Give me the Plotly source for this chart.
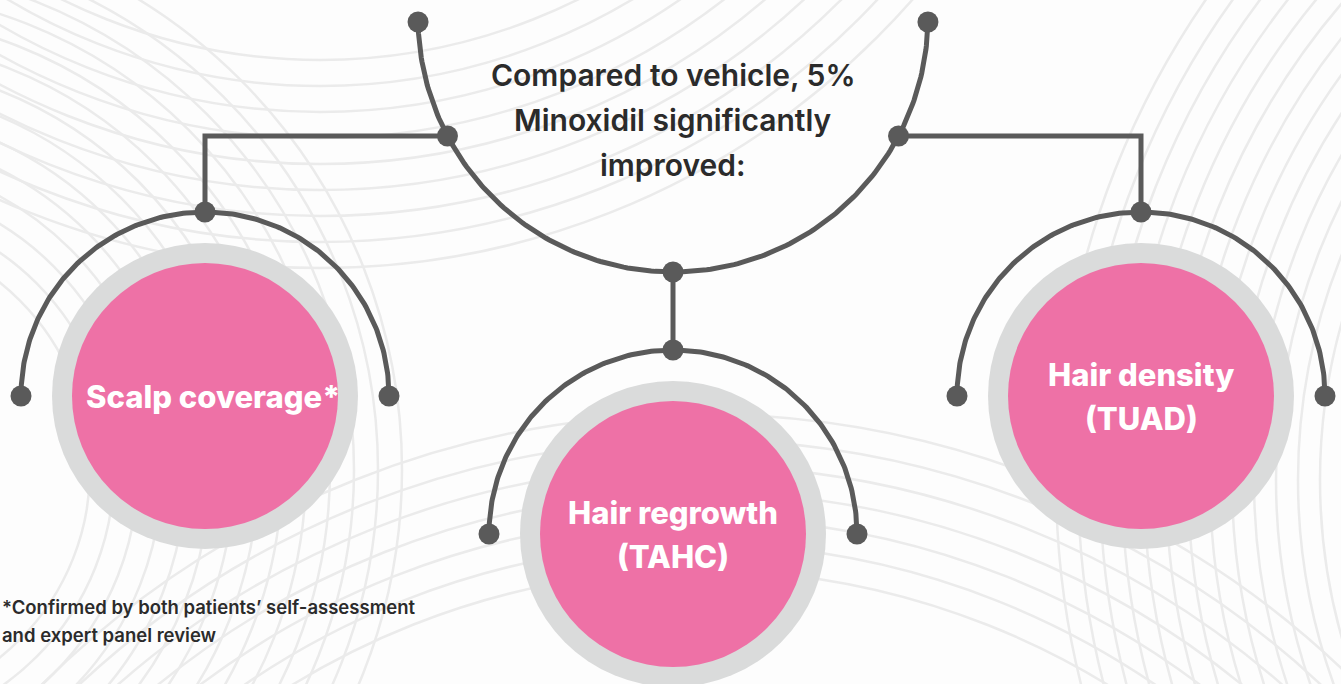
import numpy as np
import plotly.graph_objects as go

# ---- content ----
title_lines = ["Compared to vehicle, 5%", "Minoxidil significantly", "improved:"]
outcome_labels = [["Scalp coverage*"], ["Hair regrowth", "(TAHC)"], ["Hair density", "(TUAD)"]]
footnote_lines = ["*Confirmed by both patients\u2019 self-assessment", "and expert panel review"]

# ---- layout geometry (pixel space) ----
W, H = 1341, 684
hub = dict(cx=673, cy=17, r=255)
node_cx = [205, 673, 1141]
node_cy = [396, 534, 396]
label_dx = [8, 0, 0]
arc_r = 184
ring_r = 153
disc_r = 133

PINK = "#EE71A6"
RING = "#DADBDB"
LINE = "#5A5A5A"
DARK = "#2B2B2B"
BG = "#FDFDFD"
STRAND = "#EBEBEB"
FONT = "Inter"

# decorative hair-strand background: families of concentric outlines (center x, center y, r0, r1, step)
strand_families = [
    (-150, 470, 240, 560, 24),
    (1900, 480, 580, 860, 22),
    (700, 1350, 780, 960, 26),
    (320, -520, 580, 800, 26),
]

fig = go.Figure()

def add_line(xs, ys):
    fig.add_trace(go.Scatter(x=xs, y=ys, mode="lines",
                             line=dict(color=LINE, width=5),
                             hoverinfo="skip", showlegend=False))

def add_dots(xs, ys):
    fig.add_trace(go.Scatter(x=xs, y=ys, mode="markers",
                             marker=dict(color=LINE, size=21, line=dict(width=0)),
                             hoverinfo="skip", showlegend=False))

shapes = []
for fx, fy, r0, r1, st in strand_families:
    for r in range(r0, r1 + 1, st):
        shapes.append(dict(type="circle", xref="x", yref="y", layer="below",
                           x0=fx - r, x1=fx + r, y0=fy - r, y1=fy + r,
                           fillcolor="rgba(0,0,0,0)", line=dict(color=STRAND, width=2.5)))

# rings and discs
for cx, cy in zip(node_cx, node_cy):
    shapes.append(dict(type="circle", xref="x", yref="y", layer="below",
                       x0=cx - ring_r, x1=cx + ring_r, y0=cy - ring_r, y1=cy + ring_r,
                       fillcolor=RING, line=dict(width=0)))
    shapes.append(dict(type="circle", xref="x", yref="y", layer="below",
                       x0=cx - disc_r, x1=cx + disc_r, y0=cy - disc_r, y1=cy + disc_r,
                       fillcolor=PINK, line=dict(width=0)))

# hub arc (opening upward)
t0 = np.arcsin(5 / hub["r"])
t = np.linspace(t0, np.pi - t0, 200)
hx = hub["cx"] + hub["r"] * np.cos(t)
hy = hub["cy"] + hub["r"] * np.sin(t)
add_line(hx, hy)

# branch arcs over each outcome (opening downward)
tt = np.linspace(0, np.pi, 200)
for cx, cy in zip(node_cx, node_cy):
    add_line(cx + arc_r * np.cos(tt), cy - arc_r * np.sin(tt))

# connectors
def hub_point(y):
    s = (y - hub["cy"]) / hub["r"]
    c = np.sqrt(1 - s * s)
    return hub["cx"] - hub["r"] * c, hub["cx"] + hub["r"] * c

join_y = 136
lx, rx = hub_point(join_y)
add_line([lx, node_cx[0], node_cx[0]], [join_y, join_y, node_cy[0] - arc_r])
add_line([rx, node_cx[2], node_cx[2]], [join_y, join_y, node_cy[2] - arc_r])
add_line([hub["cx"], node_cx[1]], [hub["cy"] + hub["r"], node_cy[1] - arc_r])

# dots
dx = [hx[0], hx[-1], lx, rx, hub["cx"]]
dy = [hy[0], hy[-1], join_y, join_y, hub["cy"] + hub["r"]]
for cx, cy in zip(node_cx, node_cy):
    dx += [cx - arc_r, cx + arc_r, cx]
    dy += [cy, cy, cy - arc_r]
add_dots(dx, dy)

annotations = []
title_y0, title_step = 75, 45
for i, ln in enumerate(title_lines):
    annotations.append(dict(x=hub["cx"], y=title_y0 + i * title_step, xref="x", yref="y",
                            text=ln, showarrow=False, xanchor="center", yanchor="middle",
                            font=dict(family=FONT, size=30, color=DARK, weight=600)))
label_step = 44
for lines, cx, cy, ddx in zip(outcome_labels, node_cx, node_cy, label_dx):
    n = len(lines)
    for i, ln in enumerate(lines):
        yy = cy + (i - (n - 1) / 2) * label_step
        annotations.append(dict(x=cx + ddx, y=yy, xref="x", yref="y",
                                text=ln, showarrow=False, xanchor="center", yanchor="middle",
                                font=dict(family=FONT, size=31, color="white", weight=800)))
foot_y0, foot_step = 607, 28
for i, ln in enumerate(footnote_lines):
    annotations.append(dict(x=0, y=foot_y0 + i * foot_step, xref="x", yref="y",
                            text=ln, showarrow=False, xanchor="left", yanchor="middle",
                            font=dict(family=FONT, size=18.5, color=DARK, weight=600)))

fig.update_layout(
    width=W, height=H, margin=dict(l=0, r=0, t=0, b=0),
    paper_bgcolor=BG, plot_bgcolor=BG,
    xaxis=dict(range=[0, W], visible=False, fixedrange=True),
    yaxis=dict(range=[H, 0], visible=False, fixedrange=True),
    shapes=shapes, annotations=annotations,
)
fig.write_html("out.html", config={"displayModeBar": False},
               post_script="document.body.style.margin='0';document.body.style.overflow='hidden';")
